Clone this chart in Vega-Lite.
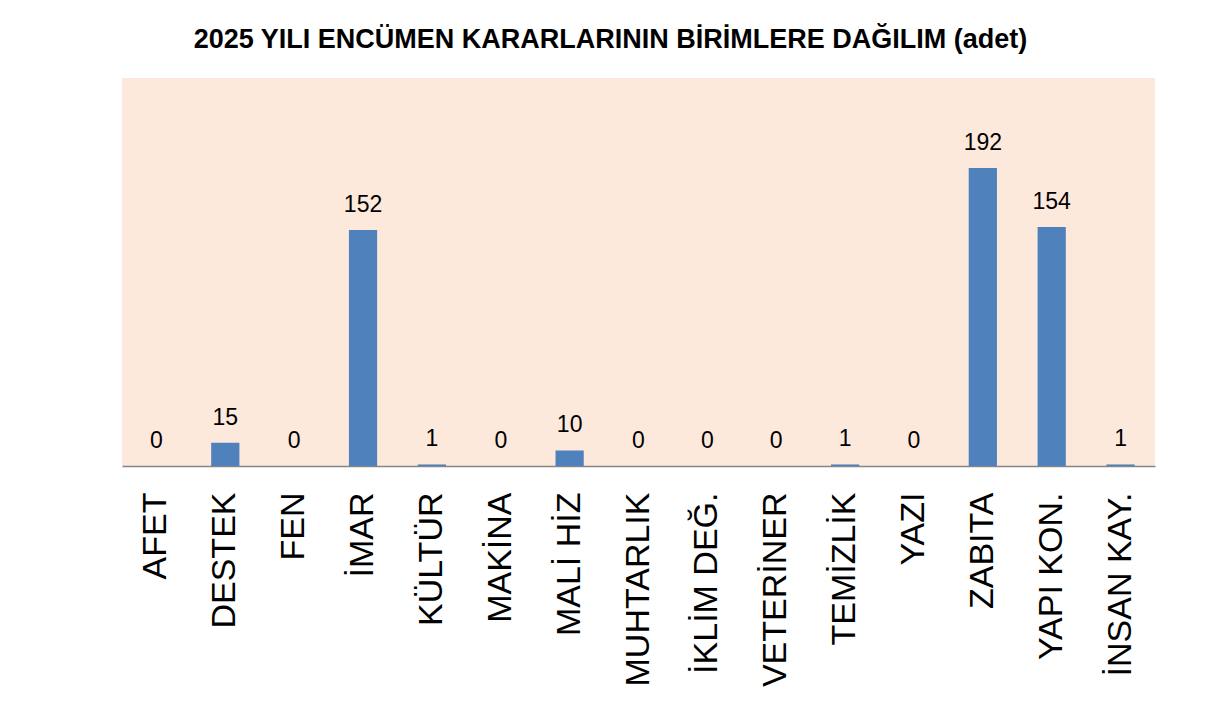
{
  "$schema": "https://vega.github.io/schema/vega-lite/v6.json",
  "autosize": "none",
  "width": 1033,
  "height": 388,
  "padding": {"left": 122, "top": 78, "right": 62, "bottom": 251},
  "background": "white",
  "title": {
    "text": "2025 YILI ENCÜMEN KARARLARININ BİRİMLERE DAĞILIM (adet)",
    "font": "Liberation Sans",
    "fontSize": 27,
    "fontWeight": "bold",
    "color": "#000000",
    "anchor": "middle",
    "dx": -28,
    "offset": 24
  },
  "data": {
    "values": [
      {"birim": "AFET", "adet": 0},
      {"birim": "DESTEK", "adet": 15},
      {"birim": "FEN", "adet": 0},
      {"birim": "İMAR", "adet": 152},
      {"birim": "KÜLTÜR", "adet": 1},
      {"birim": "MAKİNA", "adet": 0},
      {"birim": "MALİ HİZ", "adet": 10},
      {"birim": "MUHTARLIK", "adet": 0},
      {"birim": "İKLİM DEĞ.", "adet": 0},
      {"birim": "VETERİNER", "adet": 0},
      {"birim": "TEMİZLİK", "adet": 1},
      {"birim": "YAZI", "adet": 0},
      {"birim": "ZABITA", "adet": 192},
      {"birim": "YAPI KON.", "adet": 154},
      {"birim": "İNSAN KAY.", "adet": 1}
    ]
  },
  "encoding": {
    "x": {
      "field": "birim",
      "type": "nominal",
      "sort": null,
      "scale": {"paddingInner": 0.59, "paddingOuter": 0.295},
      "axis": {
        "title": null,
        "labelAngle": -90,
        "labelAlign": "right",
        "labelBaseline": "middle",
        "labelFont": "Liberation Sans",
        "labelFontSize": 34,
        "labelColor": "#000000",
        "labelPadding": 26,
        "labelLimit": 0,
        "ticks": false,
        "domainColor": "#868686",
        "domainWidth": 1.5
      }
    },
    "y": {
      "field": "adet",
      "type": "quantitative",
      "scale": {"domain": [0, 250], "nice": false},
      "axis": null
    }
  },
  "layer": [
    {
      "mark": {"type": "bar", "color": "#4F81BD"}
    },
    {
      "mark": {
        "type": "text",
        "baseline": "alphabetic",
        "dy": -18,
        "font": "Liberation Sans",
        "fontSize": 23,
        "color": "#000000"
      },
      "encoding": {"text": {"field": "adet", "type": "quantitative"}}
    }
  ],
  "config": {
    "view": {"fill": "#FDE9DB", "stroke": null}
  }
}
